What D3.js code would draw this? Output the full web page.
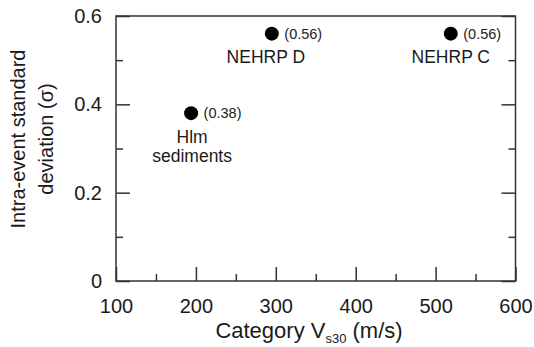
<!DOCTYPE html>
<html>
<head>
<meta charset="utf-8">
<script src="https://cdn.jsdelivr.net/npm/d3@7/dist/d3.min.js"></script>
<style>
  html, body { margin: 0; padding: 0; background: #fff; }
  svg { display: block; font-family: "Liberation Sans", Arial, sans-serif; }
</style>
</head>
<body>
<svg id="chart" width="534" height="347"></svg>
<script>
// ---- data ----
const categories = ["Hlm\nsediments", "NEHRP D", "NEHRP C"];
const vs30 = [194, 295, 519];
const sigma = [0.38, 0.56, 0.56];
const valueLabels = ["(0.38)", "(0.56)", "(0.56)"];
const xTicks = [100, 200, 300, 400, 500, 600];
const xMinorTicks = [150, 250, 350, 450, 550];
const yTicks = [0, 0.2, 0.4, 0.6];
const yMinorTicks = [0.1, 0.3, 0.5];
const yTickLabels = ["0", "0.2", "0.4", "0.6"];

// ---- layout ----
const L = 116, R = 515.5, T = 16, B = 281;
const ink = "#1a1a1a";
const svg = d3.select("#chart");

const x = d3.scaleLinear().domain([100, 600]).range([L, R]);
const y = d3.scaleLinear().domain([0, 0.6]).range([B, T]);

// frame
svg.append("rect").attr("x", L).attr("y", T).attr("width", R - L).attr("height", B - T)
  .attr("fill", "none").attr("stroke", "#333").attr("stroke-width", 1.5);

function styleAxis(g) {
  g.select(".domain").remove();
  g.selectAll(".tick line").attr("stroke", "#333").attr("stroke-width", 1.5);
  g.selectAll("text").attr("fill", ink).attr("font-size", 20)
    .attr("font-family", "Liberation Sans, Arial, sans-serif");
}

// bottom axis
svg.append("g").attr("transform", `translate(0,${B})`)
  .call(d3.axisBottom(x).tickValues(xTicks).tickSize(-14).tickPadding(18).tickFormat(d3.format("d")))
  .call(styleAxis);
svg.append("g").attr("transform", `translate(0,${B})`)
  .call(d3.axisBottom(x).tickValues(xMinorTicks).tickSize(-7).tickFormat(""))
  .call(styleAxis);

// left axis
svg.append("g").attr("transform", `translate(${L},0)`)
  .call(d3.axisLeft(y).tickValues(yTicks).tickSize(-14).tickPadding(14)
    .tickFormat((d, i) => yTickLabels[i]))
  .call(styleAxis);
svg.append("g").attr("transform", `translate(${L},0)`)
  .call(d3.axisLeft(y).tickValues(yMinorTicks).tickSize(-7).tickFormat(""))
  .call(styleAxis);

// right axis (ticks only)
svg.append("g").attr("transform", `translate(${R},0)`)
  .call(d3.axisRight(y).tickValues(yTicks).tickSize(-14).tickFormat(""))
  .call(styleAxis);
svg.append("g").attr("transform", `translate(${R},0)`)
  .call(d3.axisRight(y).tickValues(yMinorTicks).tickSize(-7).tickFormat(""))
  .call(styleAxis);

// points
const pts = categories.map((c, i) => ({ c, v: vs30[i], s: sigma[i], lab: valueLabels[i] }));
const labelDx = [1, -6, 0];

svg.selectAll("circle.pt").data(pts).join("circle")
  .attr("class", "pt")
  .attr("cx", d => x(d.v)).attr("cy", d => y(d.s)).attr("r", 7)
  .attr("fill", "#000");

svg.selectAll("text.val").data(pts).join("text")
  .attr("class", "val")
  .attr("x", d => x(d.v) + 12.5).attr("y", d => y(d.s) + 5)
  .attr("font-size", 14.5).attr("fill", "#222")
  .text(d => d.lab);

pts.forEach((d, i) => {
  const lines = d.c.split("\n");
  const t = svg.append("text")
    .attr("text-anchor", "middle").attr("font-size", 17.5).attr("fill", ink);
  lines.forEach((ln, k) => {
    t.append("tspan")
      .attr("x", x(d.v) + labelDx[i])
      .attr("y", y(d.s) + 29.5 + k * 19.5)
      .text(ln);
  });
});

// x title
const xt = svg.append("text").attr("x", 309).attr("y", 338)
  .attr("text-anchor", "middle").attr("font-size", 22).attr("fill", ink);
xt.append("tspan").text("Category V");
xt.append("tspan").attr("font-size", 13).attr("dy", 5).text("s30");
xt.append("tspan").attr("dy", -5).text(" (m/s)");

// y title
const yt = svg.append("text").attr("transform", "translate(25,139) rotate(-90)")
  .attr("text-anchor", "middle").attr("font-size", 20).attr("fill", ink);
yt.append("tspan").attr("x", 0).attr("y", 0).text("Intra-event standard");
yt.append("tspan").attr("x", 0).attr("y", 28).text("deviation (σ)");
</script>
</body>
</html>
